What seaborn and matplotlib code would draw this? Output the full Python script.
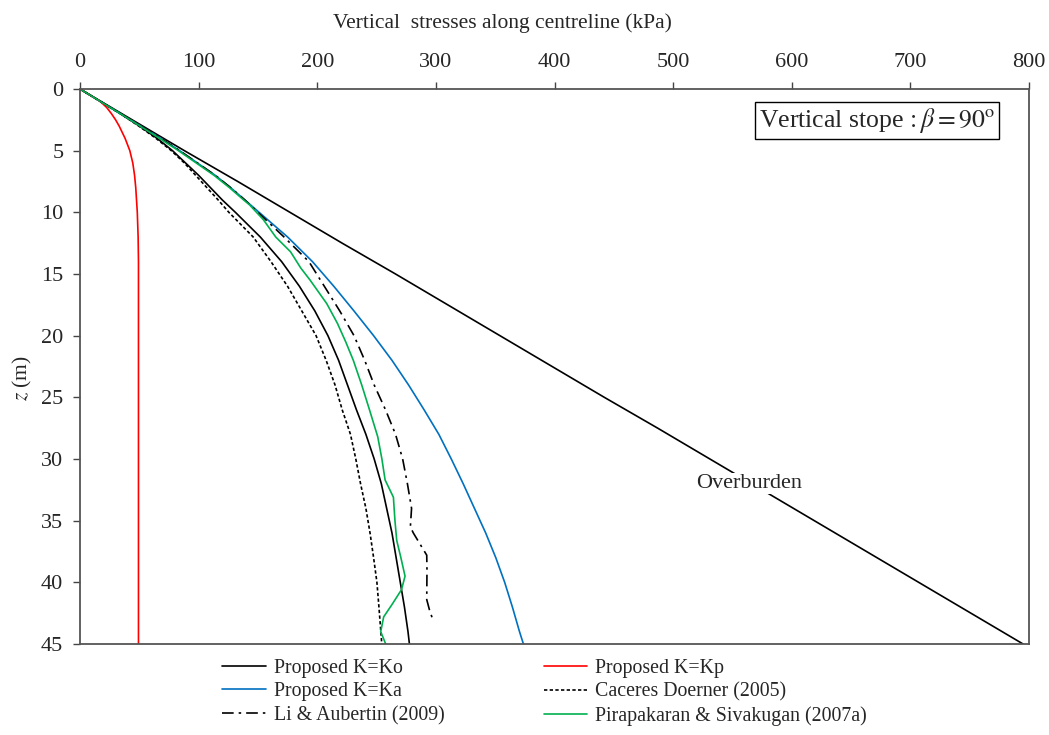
import matplotlib
matplotlib.use("Agg")
import matplotlib.pyplot as plt
import seaborn as sns
import pandas as pd

# Depth (m) and vertical stress along the stope centreline (kPa)
z_over = [0, 2.5, 5, 7.5, 10, 12.5, 15, 17.5, 20, 22.5, 25, 27.5, 30, 32.5, 35, 37.5, 40, 42.5, 45]
s_over = [0, 44, 88, 133, 177, 221, 266, 310, 354, 398, 442, 487, 531, 575, 619, 663, 707, 751, 795]

z_ko = [0, 1, 2, 3, 4, 5, 6, 7, 8, 9, 10, 12, 14, 16, 18, 20, 22, 24, 26, 28, 30, 32, 34, 36, 38, 40, 42, 44, 45]
s_ko = [0, 17, 34, 50, 65, 78, 89, 100, 110, 120, 131, 152, 170, 185, 198, 209, 218, 225.5, 233, 241, 248, 254,
        258.5, 263, 266.5, 270, 273.5, 276.5, 277.7]

z_kp = [0, 0.5, 1, 1.5, 2, 2.5, 3, 4, 5, 6, 7, 8, 10, 12, 14, 45]
s_kp = [0, 8.5, 17, 22.5, 26.5, 30, 33, 38, 42, 44.5, 46, 47, 48.3, 49, 49.3, 49.3]

z_ka = [0, 1, 2, 3, 4, 5, 6, 7, 8, 9, 10, 12, 14, 16, 18, 20, 22, 24, 26, 28, 30, 32, 34, 36, 38, 40, 42, 44, 45]
s_ka = [0, 17, 34, 51, 68, 84, 99, 114, 127, 139, 151, 175, 196, 214, 231, 247.5, 263, 277, 290, 302.5, 313,
        323, 332.5, 342, 350.5, 358, 364.5, 370.5, 373.8]

z_cd = [0, 1, 2, 3, 4, 5, 6, 7, 8, 9, 10, 12, 14, 16, 18, 20, 22, 24, 26, 28, 30, 32, 34, 36, 38, 40, 42, 44, 45]
s_cd = [0, 17, 34, 49.5, 64, 77, 88, 97.5, 107, 116.5, 125.5, 146, 161, 175, 187, 199, 207.5, 215, 221, 228,
        232.5, 236.5, 241, 244.5, 247.5, 250.3, 252, 253.6, 254.4]

z_la = [0, 1, 2, 3, 4, 5, 6, 7, 8, 9, 10, 12, 14, 16, 18, 20, 22, 24, 26, 28, 30, 32, 34, 35.5, 36, 37.8, 39,
        41.4, 42.2, 43.2]
s_la = [0, 17, 34, 51, 68, 84, 99, 114, 127, 139, 150, 172, 193, 206, 219, 231, 240, 248, 257.5, 266, 272, 276,
        279.5, 278.5, 281, 292.3, 292.5, 292.3, 294.5, 298]

z_ps = [0, 1, 2, 3, 4, 5, 6, 7, 8, 9, 9.4, 10.6, 12, 13.2, 14.5, 15.5, 17.4, 19, 20.5, 22, 24, 26, 28.2, 30,
        31.7, 33.1, 35, 36.6, 38, 39.5, 40.6, 41.8, 42.8, 44, 45]
s_ps = [0, 17, 34, 50.5, 67, 83, 98, 113, 126, 138, 143, 154.6, 165, 177.5, 186, 194, 208, 217, 224, 230.4,
        237.5, 244, 251, 254.5, 257.2, 264.2, 265.5, 267, 270.5, 274, 271, 263, 256, 253.5, 257.7]

x_ticks = [0, 100, 200, 300, 400, 500, 600, 700, 800]
y_ticks = [0, 5, 10, 15, 20, 25, 30, 35, 40, 45]

series = [
    ("Proposed K=Ko", z_ko, s_ko, "black", "-"),
    ("Proposed K=Ka", z_ka, s_ka, "#0070C0", "-"),
    ("Li & Aubertin (2009)", z_la, s_la, "black", (0, (7, 3, 1.5, 3))),
    ("Proposed K=Kp", z_kp, s_kp, "#FF0000", "-"),
    ("Caceres Doerner (2005)", z_cd, s_cd, "black", (0, (2, 1.4))),
    ("Pirapakaran & Sivakugan (2007a)", z_ps, s_ps, "#00B050", "-"),
]

sns.set_style("white")
plt.rcParams["font.family"] = ["Liberation Serif", "DejaVu Serif"]
plt.rcParams["mathtext.fontset"] = "stix"

fig = plt.figure(figsize=(10.49, 7.35), dpi=100)
ax = fig.add_axes([80 / 1049, 1 - 644 / 735, (1029 - 80) / 1049, (644 - 89) / 735])

df_over = pd.DataFrame({"stress": s_over, "depth": z_over})
sns.lineplot(data=df_over, x="stress", y="depth", sort=False, estimator=None,
             color="black", lw=1.2, ax=ax)

for name, zz, ss, col, ls in series:
    d = pd.DataFrame({"stress": ss, "depth": zz})
    sns.lineplot(data=d, x="stress", y="depth", sort=False, estimator=None,
                 color=col, linestyle=ls, lw=1.2, label=name, ax=ax)

ax.set_xlim(0, 800)
ax.set_ylim(45, 0)
ax.set_xticks(x_ticks)
ax.set_yticks(y_ticks)
ax.xaxis.tick_top()
ax.xaxis.set_label_position("top")
ax.tick_params(axis="x", which="both", top=True, bottom=False, direction="out",
               length=5, width=1, pad=7, labelsize=16, color="#444444")
ax.tick_params(axis="y", which="both", left=True, right=False, direction="out",
               length=5, width=1, pad=7, labelsize=16, color="#444444")
for sp in ax.spines.values():
    sp.set_visible(True)
    sp.set_color("#555555")
    sp.set_linewidth(1.3)

ax.set_xlabel("Vertical  stresses along centreline (kPa)", fontsize=15.5)
ax.xaxis.label.set_va("center")
ax.xaxis.set_label_coords(0.445, 1.119)
ax.set_ylabel("$z$ (m)", fontsize=15.5)
ax.yaxis.label.set_va("center")
ax.yaxis.set_label_coords(-0.061, 0.48)

ax.text(564, 32.0, "Overburden", fontsize=16, ha="center", va="center", zorder=5,
        bbox=dict(boxstyle="square,pad=0.05", fc="white", ec="none"))

ax.text(0.840, 0.943, r"Vertical stope$\,:\beta = 90^{\rm o}$", transform=ax.transAxes,
        fontsize=18.5, ha="center", va="center", zorder=6,
        bbox=dict(boxstyle="square,pad=0.15", fc="white", ec="black", lw=1.0))

handles, labels = ax.get_legend_handles_labels()
ax.legend(handles, labels, ncol=2, loc="upper left", frameon=False, fontsize=14.3,
          bbox_to_anchor=(222 / 1049, 1 - 659 / 735), bbox_transform=fig.transFigure,
          borderpad=0, borderaxespad=0, handlelength=2.2, handletextpad=0.4,
          columnspacing=5.0, labelspacing=0.22)

fig.savefig("out.png", dpi=100, facecolor="white")
